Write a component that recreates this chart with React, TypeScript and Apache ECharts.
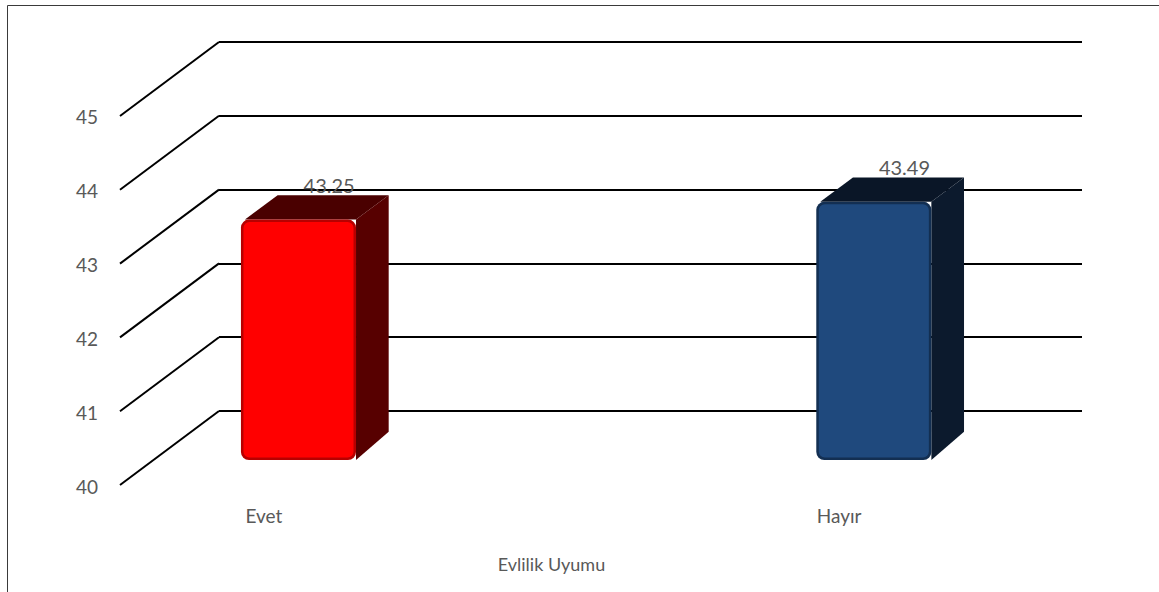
import { useEffect, useRef } from 'react';
import * as echarts from 'echarts';

// ---- data ----
const categories = ['Evet', 'Hayır'];
const values = [43.25, 43.49];
const yTicks = [40, 41, 42, 43, 44, 45];
const axisTitle = 'Evlilik Uyumu';

// ---- styling constants ----
const DEPTH_X = 99;
const DEPTH_Y = 74;
const BAR_FRONT = 0.35;
const BAR_BACK = 0.68;
const BAR_WIDTH = 0.2;
const FONT = 'Lato, "Open Sans", sans-serif';
const TEXT_COLOR = '#595959';
const faceColors = ['#ff0000', '#1f497d'];
const edgeColors = ['#b80000', '#132f52'];
const topColors = ['#4a0000', '#0a1627'];
const sideColors = ['#570000', '#0c1a2d'];

export default function App() {
  const ref = useRef<HTMLDivElement>(null);

  useEffect(() => {
    if (!ref.current) return;
    const chart = echarts.init(ref.current, null, { renderer: 'svg' });
    const yMin = yTicks[0];
    const yMax = yTicks[yTicks.length - 1];
    const barData = values.map((v, i) => [i, v]);

    chart.setOption({
      animation: false,
      backgroundColor: '#ffffff',
      graphic: [
        {
          type: 'rect',
          shape: { x: 7.5, y: 5.5, width: 1300, height: 800 },
          style: { fill: 'none', stroke: '#3a3a3a', lineWidth: 1 },
          silent: true,
          z: -10,
        },
      ],
      grid: [
        // front plane
        { left: 120, right: 176, top: 116, bottom: 106 },
        // back wall
        { left: 219, right: 77, top: 42, bottom: 181 },
      ],
      xAxis: [
        {
          gridIndex: 0,
          type: 'value',
          min: -0.25,
          max: 1.25,
          interval: 0.25,
          axisLine: { show: false },
          axisTick: { show: false },
          splitLine: { show: false },
          axisLabel: {
            color: TEXT_COLOR,
            fontFamily: FONT,
            fontSize: 19,
            margin: 20,
            formatter: (v: number) => {
              const idx = Math.round(v);
              return Math.abs(v - idx) < 1e-6 && categories[idx] ? categories[idx] : '';
            },
          },
          name: axisTitle,
          nameLocation: 'middle',
          nameGap: 69,
          nameTextStyle: { color: TEXT_COLOR, fontFamily: FONT, fontSize: 18 },
        },
        { gridIndex: 1, type: 'value', min: 0, max: 1, show: false },
      ],
      yAxis: [
        {
          gridIndex: 0,
          type: 'value',
          min: yMin,
          max: yMax,
          interval: 1,
          axisLine: { show: false },
          axisTick: { show: false },
          splitLine: { show: false },
          axisLabel: { color: TEXT_COLOR, fontFamily: FONT, fontSize: 19, margin: 22 },
        },
        {
          gridIndex: 1,
          type: 'value',
          min: yMin,
          max: yMax,
          interval: 1,
          axisLine: { show: false },
          axisTick: { show: false },
          axisLabel: { show: false },
          splitLine: { show: true, lineStyle: { color: '#000000', width: 2 } },
        },
      ],
      series: [
        {
          type: 'custom',
          name: 'diagonals',
          xAxisIndex: 1,
          yAxisIndex: 1,
          silent: true,
          z: 2,
          data: yTicks.map((t) => [0, t]),
          renderItem: (params: any, api: any) => {
            const p = api.coord([0, api.value(1)]);
            const x = params.coordSys.x;
            return {
              type: 'line',
              shape: { x1: x, y1: p[1], x2: x - DEPTH_X, y2: p[1] + DEPTH_Y },
              style: { stroke: '#000000', lineWidth: 2 },
            };
          },
        },
        {
          type: 'custom',
          name: 'bars',
          xAxisIndex: 0,
          yAxisIndex: 0,
          z: 5,
          data: barData,
          renderItem: (params: any, api: any) => {
            const i = api.value(0);
            const v = api.value(1);
            const top = api.coord([i, v]);
            const base = api.coord([i, yMin]);
            const w = api.size([1, 0])[0] * BAR_WIDTH;
            const fx = DEPTH_X * BAR_FRONT;
            const fy = DEPTH_Y * BAR_FRONT;
            const bx = DEPTH_X * (BAR_BACK - BAR_FRONT);
            const by = DEPTH_Y * (BAR_BACK - BAR_FRONT);
            const x0 = top[0] - w / 2 + fx;
            const x1 = x0 + w;
            const yt = top[1] - fy;
            const yb = base[1] - fy;
            const idx = params.dataIndex;
            return {
              type: 'group',
              children: [
                {
                  type: 'text',
                  style: {
                    text: v.toFixed(2),
                    x: (x0 + x1) / 2 + bx - 2,
                    y: yt - by - 10,
                    align: 'center',
                    verticalAlign: 'middle',
                    fill: TEXT_COLOR,
                    font: `20px ${FONT}`,
                  },
                },
                {
                  type: 'polygon',
                  shape: {
                    points: [
                      [x0 + 4, yt],
                      [x1, yt],
                      [x1 + bx, yt - by],
                      [x0 + bx + 4, yt - by],
                    ],
                  },
                  style: { fill: topColors[idx] },
                },
                {
                  type: 'polygon',
                  shape: {
                    points: [
                      [x1, yt],
                      [x1 + bx, yt - by],
                      [x1 + bx, yb - by - 4],
                      [x1, yb],
                    ],
                  },
                  style: { fill: sideColors[idx] },
                },
                {
                  type: 'rect',
                  shape: { x: x0, y: yt, width: w, height: yb - yt, r: 8 },
                  style: { fill: edgeColors[idx] },
                },
                {
                  type: 'rect',
                  shape: { x: x0 + 2.5, y: yt + 2.5, width: w - 5, height: yb - yt - 5, r: 6 },
                  style: { fill: faceColors[idx] },
                },
              ],
            };
          },
        },
      ],
    });
    return () => chart.dispose();
  }, []);

  return (
    <div
      ref={ref}
      style={{ position: 'absolute', left: 0, top: 0, width: 1159, height: 592, background: '#fff' }}
    />
  );
}
